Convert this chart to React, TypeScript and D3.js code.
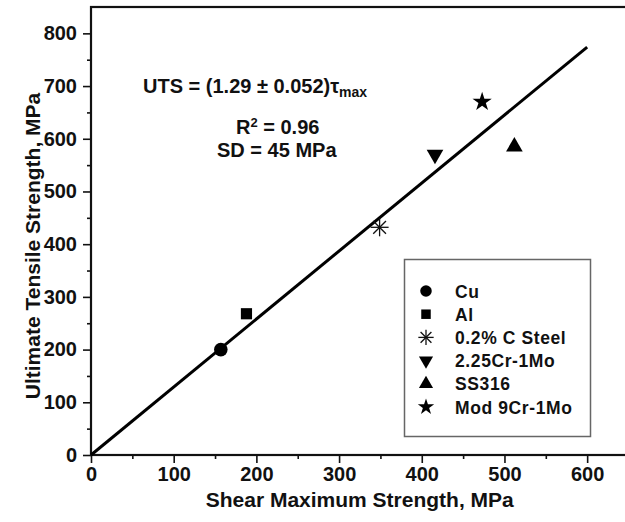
import React, { useEffect, useRef } from "react";
import * as d3 from "d3";

// materials (shear max strength, UTS)
const materials = ["Cu", "Al", "0.2% C Steel", "2.25Cr-1Mo", "SS316", "Mod 9Cr-1Mo"];
const shearValues = [157, 188, 349, 416, 512, 473];
const utsValues = [200, 268, 432, 570, 585, 670];
const markerKinds = ["circle", "square", "asterisk", "triDown", "triUp", "star"];

const fitSlope = 1.29;
const fitRange = [0, 600];

const xTicks = [0, 100, 200, 300, 400, 500, 600];
const yTicks = [0, 100, 200, 300, 400, 500, 600, 700, 800];

const W = 625, H = 522;
const FONT = "'Liberation Sans', Arial, Helvetica, sans-serif";

function drawMarker(g: any, kind: string, cx: number, cy: number, s: number) {
  if (kind === "asterisk") {
    const r = 9 * s;
    const a = g.append("g").attr("stroke", "#111").attr("stroke-width", 1.3);
    [0, 45, 90, 135].forEach((deg) => {
      const t = (deg * Math.PI) / 180;
      a.append("line")
        .attr("x1", cx - r * Math.cos(t)).attr("y1", cy - r * Math.sin(t))
        .attr("x2", cx + r * Math.cos(t)).attr("y2", cy + r * Math.sin(t));
    });
    return;
  }
  let sym: any = d3.symbolCircle, size = 145, rot = 0;
  if (kind === "square") { sym = d3.symbolSquare; size = 125; }
  if (kind === "triUp") { sym = d3.symbolTriangle; size = 120; }
  if (kind === "triDown") { sym = d3.symbolTriangle; size = 120; rot = 180; }
  if (kind === "star") { sym = d3.symbolStar; size = 115; }
  g.append("path")
    .attr("d", d3.symbol().type(sym).size(size * s * s)())
    .attr("transform", `translate(${cx},${cy}) rotate(${rot})`)
    .attr("fill", "#000");
}

function App() {
  const ref = useRef<SVGSVGElement | null>(null);

  useEffect(() => {
    const svg = d3.select(ref.current);
    svg.selectAll("*").remove();

    const x = d3.scaleLinear().domain([0, 650]).range([91, 628.5]);
    const y = d3.scaleLinear().domain([0, 850]).range([455, 7]);

    svg.append("rect").attr("width", W).attr("height", H).attr("fill", "#fff");

    // frame
    svg.append("rect")
      .attr("x", x(0)).attr("y", y(850))
      .attr("width", x(650) - x(0)).attr("height", y(0) - y(850))
      .attr("fill", "none").attr("stroke", "#111").attr("stroke-width", 2.2);

    // axes: minor then major ticks
    const xMinor = svg.append("g").attr("transform", `translate(0,${y(0)})`);
    xMinor.call(d3.axisBottom(x).tickValues(d3.range(50, 650, 100)).tickSize(4).tickFormat(() => ""));
    xMinor.select(".domain").remove();
    const xMajor = svg.append("g").attr("transform", `translate(0,${y(0)})`);
    xMajor.call(d3.axisBottom(x).tickValues(xTicks).tickSize(8).tickPadding(4).tickFormat(d3.format("d")));
    xMajor.select(".domain").remove();

    const yMinor = svg.append("g").attr("transform", `translate(${x(0)},0)`);
    yMinor.call(d3.axisLeft(y).tickValues(d3.range(50, 850, 100)).tickSize(4).tickFormat(() => ""));
    yMinor.select(".domain").remove();
    const yMajor = svg.append("g").attr("transform", `translate(${x(0)},0)`);
    yMajor.call(d3.axisLeft(y).tickValues(yTicks).tickSize(8).tickPadding(6).tickFormat(d3.format("d")));
    yMajor.select(".domain").remove();

    svg.selectAll(".tick line").attr("stroke", "#111").attr("stroke-width", 1.6);
    svg.selectAll(".tick text")
      .attr("fill", "#111").attr("font-family", FONT)
      .attr("font-size", 20).attr("font-weight", "bold");

    // fit line
    const line = d3.line<number>().x((d) => x(d)).y((d) => y(d * fitSlope));
    svg.append("path")
      .attr("d", line(fitRange))
      .attr("fill", "none").attr("stroke", "#000").attr("stroke-width", 3);

    // points
    const pts = svg.append("g");
    materials.forEach((m, i) => drawMarker(pts, markerKinds[i], x(shearValues[i]), y(utsValues[i]), 1));

    // annotation
    const ann = svg.append("g").attr("font-family", FONT).attr("font-weight", "bold")
      .attr("font-size", 20).attr("fill", "#111");
    const t1 = ann.append("text").attr("x", 143).attr("y", 93);
    t1.append("tspan").text("UTS = (1.29 ± 0.052)τ");
    t1.append("tspan").attr("font-size", 14).attr("dy", 4).text("max");
    const t2 = ann.append("text").attr("x", 236).attr("y", 134);
    t2.append("tspan").text("R");
    t2.append("tspan").attr("font-size", 13).attr("dy", -7).text("2");
    t2.append("tspan").attr("dy", 7).text(" = 0.96");
    ann.append("text").attr("x", 217).attr("y", 157).text("SD = 45 MPa");

    // legend
    const lg = svg.append("g");
    lg.append("rect").attr("x", 404.5).attr("y", 259.5).attr("width", 186).attr("height", 177)
      .attr("fill", "#fff").attr("stroke", "#666").attr("stroke-width", 1.5);
    materials.forEach((m, i) => {
      const cy = 291 + i * 23.2;
      drawMarker(lg, markerKinds[i], 426, cy, 0.85);
      lg.append("text").attr("x", 455).attr("y", cy + 6.5)
        .attr("font-family", FONT).attr("font-weight", "bold").attr("font-size", 17.5)
        .attr("letter-spacing", 0.6).attr("fill", "#111").text(m);
    });

    // axis titles
    svg.append("text")
      .attr("x", (x(0) + x(650)) / 2).attr("y", 507).attr("text-anchor", "middle")
      .attr("font-family", FONT).attr("font-weight", "bold").attr("font-size", 21)
      .attr("fill", "#111").text("Shear Maximum Strength, MPa");
    svg.append("text")
      .attr("transform", `translate(40,${(y(0) + y(850)) / 2 + 15}) rotate(-90)`)
      .attr("text-anchor", "middle")
      .attr("font-family", FONT).attr("font-weight", "bold").attr("font-size", 21)
      .attr("fill", "#111").text("Ultimate Tensile Strength, MPa");
  }, []);

  return (
    <svg ref={ref} width={W} height={H}
      style={{ position: "absolute", left: 0, top: 0, display: "block" }} />
  );
}

export default App;
